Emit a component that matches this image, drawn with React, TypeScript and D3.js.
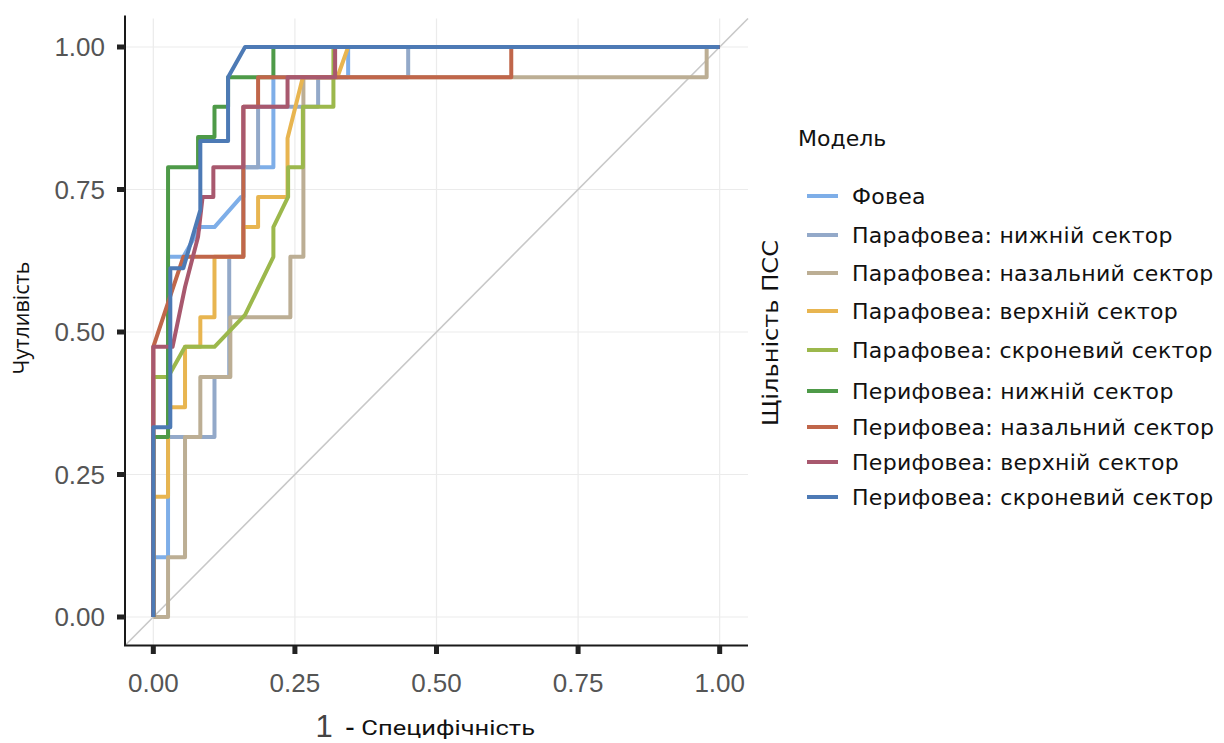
import React from 'react';
import * as d3 from 'd3';

const tickValues = [0, 0.25, 0.5, 0.75, 1];
const tickLabels = ['0.00', '0.25', '0.50', '0.75', '1.00'];

const modelNames = [
  'Фовеа',
  'Парафовеа: нижній сектор',
  'Парафовеа: назальний сектор',
  'Парафовеа: верхній сектор',
  'Парафовеа: скроневий сектор',
  'Перифовеа: нижній сектор',
  'Перифовеа: назальний сектор',
  'Перифовеа: верхній сектор',
  'Перифовеа: скроневий сектор',
];
const modelColors = ['#7eaee8', '#93a9c9', '#bcae94', '#e8b550', '#9cb84c', '#4e9a48', '#c0664a', '#a8586e', '#4d7ab5'];

const foveaFpr = [0, 0, 0.026, 0.026, 0.053, 0.083, 0.108, 0.155, 0.159, 0.159, 0.212, 0.212, 0.344, 0.344, 1];
const foveaTpr = [0, 0.105, 0.105, 0.632, 0.632, 0.684, 0.684, 0.737, 0.737, 0.789, 0.789, 0.947, 0.947, 1, 1];

const paraInfFpr = [0, 0, 0.108, 0.108, 0.134, 0.134, 0.159, 0.159, 0.185, 0.185, 0.291, 0.291, 0.45, 0.45, 1];
const paraInfTpr = [0, 0.316, 0.316, 0.421, 0.421, 0.632, 0.632, 0.789, 0.789, 0.895, 0.895, 0.947, 0.947, 1, 1];

const paraNasFpr = [0, 0.026, 0.026, 0.056, 0.056, 0.083, 0.083, 0.136, 0.136, 0.242, 0.242, 0.265, 0.265, 0.977, 0.977, 1];
const paraNasTpr = [0, 0, 0.105, 0.105, 0.316, 0.316, 0.421, 0.421, 0.526, 0.526, 0.632, 0.632, 0.947, 0.947, 1, 1];

const paraSupFpr = [0, 0, 0.026, 0.026, 0.056, 0.056, 0.083, 0.083, 0.108, 0.108, 0.159, 0.159, 0.185, 0.185, 0.237, 0.237, 0.264, 0.325, 0.344, 1];
const paraSupTpr = [0, 0.211, 0.211, 0.368, 0.368, 0.474, 0.474, 0.526, 0.526, 0.632, 0.632, 0.684, 0.684, 0.737, 0.737, 0.84, 0.947, 0.947, 1, 1];

const paraTempFpr = [0, 0, 0.026, 0.056, 0.108, 0.162, 0.212, 0.212, 0.238, 0.238, 0.264, 0.264, 0.318, 0.318, 1];
const paraTempTpr = [0, 0.421, 0.421, 0.474, 0.474, 0.53, 0.632, 0.684, 0.737, 0.789, 0.789, 0.895, 0.895, 1, 1];

const periInfFpr = [0, 0, 0.026, 0.026, 0.079, 0.079, 0.108, 0.108, 0.132, 0.132, 0.212, 0.212, 1];
const periInfTpr = [0, 0.316, 0.316, 0.789, 0.789, 0.842, 0.842, 0.895, 0.895, 0.947, 0.947, 1, 1];

const periNasFpr = [0, 0, 0.053, 0.159, 0.159, 0.185, 0.185, 0.632, 0.632, 1];
const periNasTpr = [0, 0.474, 0.632, 0.632, 0.895, 0.895, 0.947, 0.947, 1, 1];

const periSupFpr = [0, 0, 0.034, 0.056, 0.079, 0.087, 0.106, 0.106, 0.159, 0.159, 0.237, 0.237, 0.321, 0.321, 1];
const periSupTpr = [0, 0.474, 0.474, 0.579, 0.667, 0.737, 0.737, 0.789, 0.789, 0.895, 0.895, 0.947, 0.947, 1, 1];

const periTempFpr = [0, 0, 0.03, 0.03, 0.053, 0.083, 0.083, 0.132, 0.132, 0.162, 1];
const periTempTpr = [0, 0.333, 0.333, 0.612, 0.612, 0.714, 0.835, 0.835, 0.947, 1, 1];

const seriesFpr = [foveaFpr, paraInfFpr, paraNasFpr, paraSupFpr, paraTempFpr, periInfFpr, periNasFpr, periSupFpr, periTempFpr];
const seriesTpr = [foveaTpr, paraInfTpr, paraNasTpr, paraSupTpr, paraTempTpr, periInfTpr, periNasTpr, periSupTpr, periTempTpr];

const legendY = [196, 235, 273, 311, 350, 391, 427, 462, 497];

export default function App() {
  const W = 1224, H = 743;
  const x = d3.scaleLinear().domain([-0.05, 1.05]).range([125, 748]);
  const y = d3.scaleLinear().domain([-0.05, 1.05]).range([645.5, 18.5]);
  const line = d3.line<[number, number]>().x(d => x(d[0])).y(d => y(d[1]));
  const tickFont = 'Liberation Sans, Arial, sans-serif';
  const legFont = 'DejaVu Sans, Verdana, sans-serif';

  return (
    <svg width={W} height={H} style={{ position: 'absolute', left: 0, top: 0, background: '#fff' }}>
      <rect x={0} y={0} width={W} height={H} fill="#fff" />
      {tickValues.map((t, i) => (
        <g key={'g' + i}>
          <line x1={x(t)} x2={x(t)} y1={y(1.05)} y2={y(-0.05)} stroke="#ebebeb" strokeWidth={1.2} />
          <line x1={x(-0.05)} x2={x(1.05)} y1={y(t)} y2={y(t)} stroke="#ebebeb" strokeWidth={1.2} />
        </g>
      ))}
      <line x1={x(-0.05)} y1={y(-0.05)} x2={x(1.05)} y2={y(1.05)} stroke="#c8c8c8" strokeWidth={1.6} />
      {seriesFpr.map((fpr, i) => {
        const pts = fpr.map((f, j) => [f, seriesTpr[i][j]] as [number, number]);
        return (
          <path key={'c' + i} d={line(pts) || ''} fill="none" stroke={modelColors[i]} strokeWidth={4} strokeLinejoin="round" />
        );
      })}
      <line x1={125} x2={125} y1={y(1.05) - 3} y2={y(-0.05)} stroke="#1a1a1a" strokeWidth={2} />
      <line x1={124} x2={x(1.05)} y1={y(-0.05)} y2={y(-0.05)} stroke="#1a1a1a" strokeWidth={2} />
      {tickValues.map((t, i) => (
        <g key={'t' + i}>
          <rect x={117} y={y(t) - 2.5} width={8} height={5} fill="#222" />
          <rect x={x(t) - 2.5} y={646} width={5} height={8} fill="#222" />
          <text x={105} y={y(t)} dy="0.35em" textAnchor="end" fontFamily={tickFont} fontSize={26} fill="#555">{tickLabels[i]}</text>
          <text x={x(t)} y={683} dy="0.35em" textAnchor="middle" fontFamily={tickFont} fontSize={26} fill="#555">{tickLabels[i]}</text>
        </g>
      ))}
      <text transform="translate(29,318) rotate(-90)" textAnchor="middle" fontFamily="Open Sans, sans-serif" fontSize={21} fill="#111" textLength={113} lengthAdjust="spacingAndGlyphs">Чутливість</text>
      <text x={324} y={737} textAnchor="middle" fontFamily={tickFont} fontSize={31} fill="#444">1</text>
      <text x={345} y={735} fontFamily="Roboto, sans-serif" fontSize={21} fill="#111" textLength={190} lengthAdjust="spacingAndGlyphs">
        <tspan fontWeight={700}>-</tspan> Специфічність
      </text>
      <text transform="translate(778,333) rotate(-90)" textAnchor="middle" fontFamily={legFont} fontSize={21} fill="#111" textLength={186} lengthAdjust="spacingAndGlyphs">Щільність ПСС</text>
      <text x={798} y={138} dy="0.35em" fontFamily={legFont} fontSize={22} fill="#111">Модель</text>
      {modelNames.map((n, i) => (
        <g key={'l' + i}>
          <line x1={807} x2={838} y1={legendY[i]} y2={legendY[i]} stroke={modelColors[i]} strokeWidth={4} />
          <text x={852} y={legendY[i]} dy="0.35em" fontFamily={legFont} fontSize={22} fill="#111" letterSpacing={0.3}>{n}</text>
        </g>
      ))}
    </svg>
  );
}
